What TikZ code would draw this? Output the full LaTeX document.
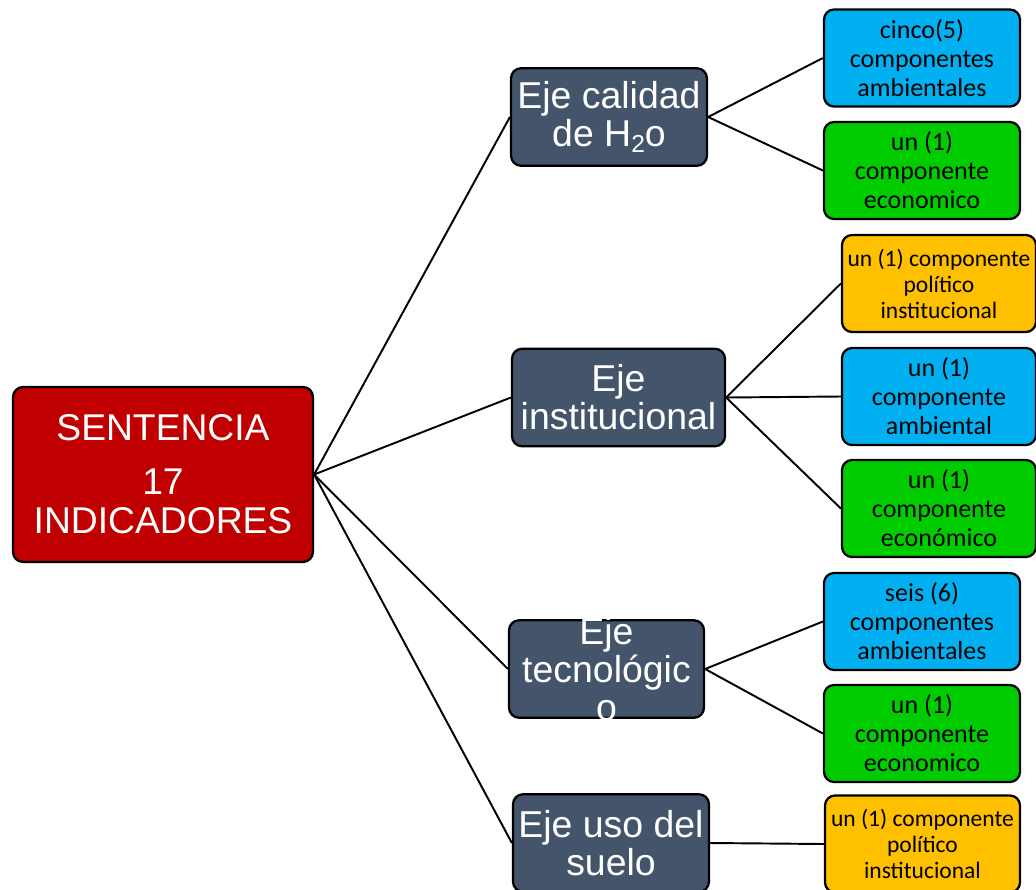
\documentclass[tikz,border=0pt]{standalone}
\usepackage{fontspec}
\setmainfont{Liberation Sans}
\newfontfamily\calibri{Carlito}
\usepackage{xcolor}
\usetikzlibrary{positioning}

\definecolor{rojo}{HTML}{C00000}
\definecolor{pizarra}{HTML}{44546A}
\definecolor{celeste}{HTML}{00B0F0}
\definecolor{verde}{HTML}{00CC00}
\definecolor{ambar}{HTML}{FFC000}

\begin{document}
\begin{tikzpicture}[x=0.02cm,y=-0.02cm,line width=1.1pt]
	\tikzstyle{caja}=[draw=black, rounded corners=0.2cm, align=center, inner sep=0pt, line width=1.3pt]
	\tikzstyle{raiz}=[caja, fill=rojo, text=white, minimum width=6cm, minimum height=3.5cm, font=\fontsize{21.2}{22.2}\selectfont]
	\tikzstyle{eje}=[caja, fill=pizarra, text=white, minimum height=1.95cm, font=\fontsize{21.3}{21.6}\selectfont]
	\tikzstyle{comp}=[caja, text=black, minimum height=1.94cm, font=\calibri\fontsize{14.8}{16.5}\selectfont]
	\tikzstyle{politico}=[comp, fill=ambar, font=\calibri\fontsize{13.4}{14.8}\selectfont]
	\useasboundingbox (0,0) rectangle (1036,890);

	\node[raiz](sentencia) at (163,474.5){SENTENCIA\\[8.5pt]17\\INDICADORES};

	\node[eje, minimum width=3.92cm](calidad) at (609,117){Eje calidad\\de H\raisebox{-0.15em}{\fontsize{14}{14}\selectfont 2}o};
	\node[eje, minimum width=4.26cm](institucional) at (618.5,397.5){Eje\\institucional};
	\node[eje, minimum width=3.9cm, inner ysep=-0.14cm](tecnologico) at (606.5,669){Eje\\tecnológic\\o};
	\node[eje, minimum width=3.92cm](suelo) at (611,843){Eje uso del\\suelo};

	\node[comp, fill=celeste, minimum width=3.92cm](ambCalidad) at (922,58){cinco(5)\\componentes\\ambientales};
	\node[comp, fill=verde, minimum width=3.92cm](ecoCalidad) at (922,170.5){un (1)\\componente\\economico};
	\node[politico, minimum width=3.88cm](polInst) at (939,283.5){un (1) componente\\político\\institucional};
	\node[comp, fill=celeste, minimum width=3.88cm](ambInst) at (939,396.5){un (1)\\componente\\ambiental};
	\node[comp, fill=verde, minimum width=3.88cm](ecoInst) at (939,508.5){un (1)\\componente\\económico};
	\node[comp, fill=celeste, minimum width=3.92cm](ambTec) at (922,621.5){seis (6)\\componentes\\ambientales};
	\node[comp, fill=verde, minimum width=3.92cm](ecoTec) at (922,733.5){un (1)\\componente\\economico};
	\node[politico, minimum width=3.9cm](polSuelo) at (922.5,844){un (1) componente\\político\\institucional};

	\draw (sentencia.east) -- (calidad.west);
	\draw (sentencia.east) -- (institucional.west);
	\draw (sentencia.east) -- (tecnologico.west);
	\draw (sentencia.east) -- (suelo.west);
	\draw (calidad.east) -- (ambCalidad.west);
	\draw (calidad.east) -- (ecoCalidad.west);
	\draw (institucional.east) -- (polInst.west);
	\draw (institucional.east) -- (ambInst.west);
	\draw (institucional.east) -- (ecoInst.west);
	\draw (tecnologico.east) -- (ambTec.west);
	\draw (tecnologico.east) -- (ecoTec.west);
	\draw (suelo.east) -- (polSuelo.west);
\end{tikzpicture}
\end{document}
